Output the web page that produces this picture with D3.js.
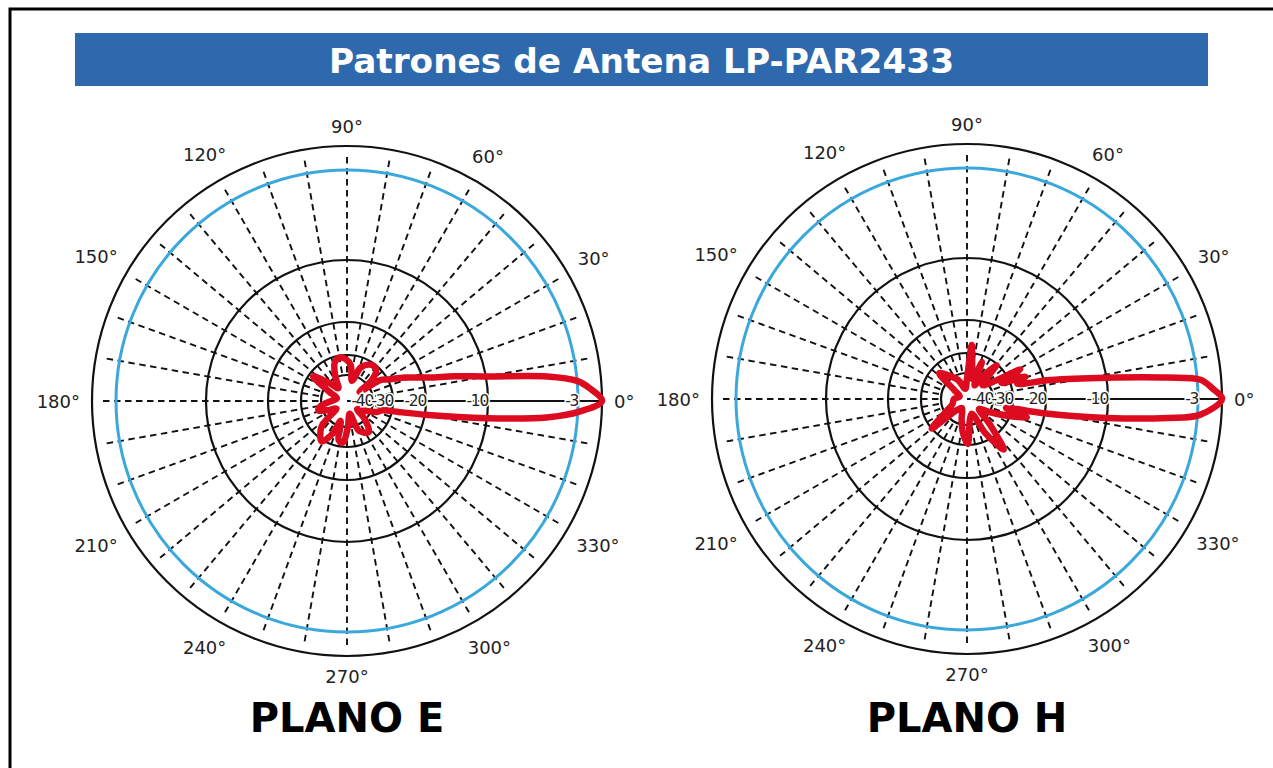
<!DOCTYPE html>
<html>
<head>
<meta charset="utf-8">
<script src="https://cdn.jsdelivr.net/npm/d3@7"></script>
<style>
    body { margin: 0; background: #fff; }
    text { font-family: "DejaVu Sans", Verdana, sans-serif; }
</style>
</head>
<body>
<div id="chart"></div>
<script>
// angle (deg, counter-clockwise from 0°) and relative gain (dB)
const eAngles = [0, 3, 5, 7, 10, 13, 16, 22, 28, 32, 36, 40, 46, 52, 60, 68, 76, 84, 92, 100,
    108, 116, 124, 135, 144, 152, 165, 180, 190, 198, 206, 215, 225, 238, 246, 252, 258, 264,
    272, 282, 292, 305, 314, 322, 332, 340, 345, 348, 350, 353, 355.3, 357.4];
const eGain = [0, -1.5, -3, -5.3, -10, -15, -19, -25, -30, -33, -44, -37, -32, -31, -32, -35, -42, -35, -32, -31,
    -33, -40, -44, -40, -32, -42, -46, -44, -40, -38, -42, -45, -35, -29.5, -35, -42, -33, -32,
    -40, -45, -37, -34, -40, -45, -42, -37, -35, -28, -20, -10, -5.4, -2.8];

const hAngles = [0, 2.5, 4.7, 6.1, 8.7, 12.9, 17, 21, 25, 29, 34, 42, 49, 56, 62, 68, 74, 80, 85, 90,
    100, 115, 128, 137, 145, 160, 180, 200, 212, 220, 227, 240, 255, 263, 271, 278, 288, 298,
    306, 312, 320, 330, 337, 343, 347, 349.5, 352.3, 354.6, 356.1];
const hGain = [0, -1.2, -2.6, -5.3, -10, -19, -28, -25, -34, -25.5, -38, -42, -30.5, -40, -44, -33, -42, -38, -27.5, -42,
    -46, -42, -38, -34, -44, -47, -45, -44, -40, -30, -44, -46, -42, -36, -30.5, -42, -44, -34,
    -25, -36, -44, -40, -32, -25, -33, -20.3, -10, -5.3, -2.7];

const ringLevels = [-40, -30, -20, -10, -3, 0];
const ringLabels = ["-40", "-30", "-20", "-10", "-3"];
const angleTicks = [0, 30, 60, 90, 120, 150, 180, 210, 240, 270, 300, 330];
const spokeAngles = d3.range(0, 360, 10);

const chartTitle = "Patrones de Antena LP-PAR2433";
const planeNames = ["PLANO E", "PLANO H"];

const RED = '#dd0b1f';
const BLUE = '#3ba8dc';

class PolarPattern {

    constructor(svg, cx, cy, name, angles, gain) {
        this.svg = svg;
        this.cx = cx;
        this.cy = cy;
        this.name = name;
        this.data = angles.map((a, i) => ({angle: a, gain: gain[i]}));
        this.initVis();
    }

    initVis() {
        let vis = this;
        const rad = Math.PI / 180;

        // non-linear dB scale, like the printed chart
        vis.r = d3.scaleLinear()
            .domain([-50, -40, -30, -20, -10, -3, 0])
            .range([0, 26, 46, 79, 141, 231, 255])
            .clamp(true);

        vis.g = vis.svg.append("g")
            .attr("transform", "translate(" + vis.cx + "," + vis.cy + ")");

        // dashed spokes every 10 degrees (0° is drawn solid)
        let inner = vis.r(-40);
        vis.g.selectAll(".spoke")
            .data(spokeAngles.filter(a => a !== 0))
            .enter()
            .append("line")
            .attr("class", "spoke")
            .attr("x1", d => 244 * Math.cos(d * rad))
            .attr("y1", d => -244 * Math.sin(d * rad))
            .attr("x2", d => inner * Math.cos(d * rad))
            .attr("y2", d => -inner * Math.sin(d * rad))
            .attr("stroke", "#111")
            .attr("stroke-width", 1.9)
            .attr("stroke-dasharray", "6.5,4.5")

        vis.g.append("line")
            .attr("x1", 0).attr("y1", 0)
            .attr("x2", vis.r(0)).attr("y2", 0)
            .attr("stroke", "#111")
            .attr("stroke-width", 1.9)

        vis.g.selectAll(".ring")
            .data(ringLevels)
            .enter()
            .append("circle")
            .attr("class", "ring")
            .attr("r", d => vis.r(d))
            .attr("fill", "none")
            .attr("stroke", d => d === -3 ? BLUE : "#111")
            .attr("stroke-width", d => d === -3 ? 3 : 2.2)

        // radiation pattern
        let line = d3.lineRadial()
            .angle(d => (90 - d.angle) * rad)
            .radius(d => vis.r(d.gain))
            .curve(d3.curveCatmullRomClosed.alpha(0.5));

        vis.g.append("path")
            .attr("d", line(vis.data))
            .attr("fill", "none")
            .attr("stroke", RED)
            .attr("stroke-width", 6.5)
            .attr("stroke-linejoin", "round")

        // dB labels along the 0° axis
        vis.g.selectAll(".db-label")
            .data(ringLabels)
            .enter()
            .append("text")
            .attr("class", "db-label")
            .attr("x", (d, i) => vis.r(ringLevels[i]))
            .attr("y", 0)
            .attr("text-anchor", "end")
            .attr("dominant-baseline", "central")
            .attr("font-size", 15.5)
            .attr("letter-spacing", -1.3)
            .attr("fill", "#222")
            .attr("stroke", "#fff")
            .attr("stroke-width", 3)
            .attr("paint-order", "stroke")
            .text(d => d)

        // angle labels, centred outside the outer ring
        vis.g.selectAll(".angle-label")
            .data(angleTicks)
            .enter()
            .append("text")
            .attr("class", "angle-label")
            .attr("text-anchor", "middle")
            .attr("dominant-baseline", "central")
            .attr("font-size", 18)
            .attr("fill", "#222")
            .text(d => d + "°")
            .each(function (d) {
                let w = this.getComputedTextLength();
                let c = Math.cos(d * rad), s = Math.sin(d * rad);
                let rr = 267 + (w / 2) * Math.abs(c) + 8 * Math.abs(s);
                d3.select(this)
                    .attr("x", rr * c)
                    .attr("y", -rr * s);
            })

        vis.svg.append("text")
            .attr("x", vis.cx)
            .attr("y", 732)
            .attr("text-anchor", "middle")
            .attr("font-size", 40)
            .attr("font-weight", "bold")
            .attr("fill", "#000")
            .text(vis.name)
    }
}

const svg = d3.select("#chart").append("svg")
    .attr("width", 1273)
    .attr("height", 768)

svg.append("rect")
    .attr("x", 10)
    .attr("y", 9)
    .attr("width", 1400)
    .attr("height", 900)
    .attr("fill", "#fff")
    .attr("stroke", "#000")
    .attr("stroke-width", 3)

svg.append("rect")
    .attr("x", 75)
    .attr("y", 33)
    .attr("width", 1133)
    .attr("height", 53)
    .attr("fill", "#2f69ad")

svg.append("text")
    .attr("x", 641.5)
    .attr("y", 73)
    .attr("text-anchor", "middle")
    .attr("font-size", 34.3)
    .attr("font-weight", "bold")
    .attr("fill", "#fff")
    .text(chartTitle)

new PolarPattern(svg, 347, 401, planeNames[0], eAngles, eGain);
new PolarPattern(svg, 967, 399, planeNames[1], hAngles, hGain);
</script>
</body>
</html>
